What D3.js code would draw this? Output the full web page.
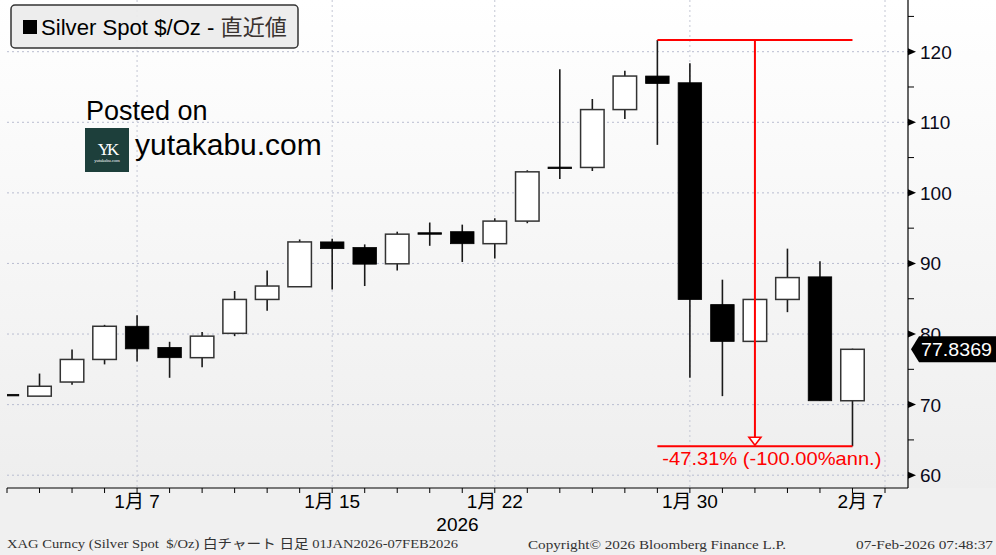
<!DOCTYPE html>
<html><head><meta charset="utf-8">
<script src="https://cdn.jsdelivr.net/npm/d3@7"></script>
<style>
html,body{margin:0;padding:0;background:#f0f0f0;}
svg{display:block;}
</style></head>
<body>
<script>
// ---- data ----
const dates = ["1/1","1/2","1/5","1/6","1/7","1/8","1/9","1/12","1/13","1/14","1/15","1/16","1/19","1/20","1/21","1/22","1/23","1/26","1/27","1/28","1/29","1/30","2/2","2/3","2/4","2/5","2/6","2/7"];
const opens  = [71.45,71.2,73.2,76.4,81.1,78.1,76.65,80.1,84.9,86.7,93.05,92.25,89.95,94.35,94.5,92.8,96.0,103.65,103.6,111.8,116.55,115.6,84.17,78.96,84.9,88.1,70.55];
const highs  = [71.45,74.4,77.8,81.3,82.65,78.9,80.3,86.1,89.0,93.4,93.5,92.7,94.5,95.8,95.5,96.4,103.2,117.5,113.3,117.3,121.66,118.35,87.7,85.0,92.1,90.3,77.93];
const lows   = [71.45,71.2,72.8,75.7,76.1,73.8,75.3,79.7,83.3,86.7,86.3,86.8,89.0,92.5,90.2,90.7,95.7,101.95,103.1,110.45,106.8,73.8,71.2,78.9,83.1,70.55,64.1];
const closes = [71.45,72.6,76.4,81.1,77.9,76.65,79.7,84.9,86.8,93.05,92.1,89.9,94.15,94.25,92.8,96.0,102.98,103.45,111.8,116.55,115.5,84.9,78.96,84.9,88.0,70.55,77.8369];
const tickDates  = ["1/7","1/15","1/22","1/30","2/7"];
const tickLabels = ["1月 7","1月 15","1月 22","1月 30","2月 7"];
const yTicks = [60,70,80,90,100,110,120];
const yMinor = [65,75,85,95,105,115,125];
const lastPrice = 77.8369;
const annStartDate = "1/29", annEndDate = "2/6";
const annHigh = 121.66, annLow = 64.1;
const annText = "-47.31% (-100.00%ann.)";
const legendText = "Silver Spot $/Oz - ";
const legendText2 = "直近値";

// ---- layout ----
const W = 996, H = 555;
const plotL = 7, plotR = 908, plotT = 0, plotB = 488;
const svg = d3.select("body").append("svg").attr("width", W).attr("height", H);
const defs = svg.append("defs");
const grad = defs.append("linearGradient").attr("id","bg").attr("x1",0).attr("y1",0).attr("x2",0).attr("y2",1);
grad.append("stop").attr("offset","0%").attr("stop-color","#ffffff");
grad.append("stop").attr("offset","100%").attr("stop-color","#eeeeee");
defs.append("clipPath").attr("id","clip").append("rect").attr("x",plotL).attr("y",plotT).attr("width",plotR-plotL).attr("height",plotB-plotT);

svg.append("rect").attr("x",0).attr("y",0).attr("width",W).attr("height",plotB).attr("fill","url(#bg)");
svg.append("rect").attr("x",0).attr("y",plotB).attr("width",W).attr("height",H-plotB).attr("fill","#f0f0f0");

const x = d3.scalePoint().domain(dates).range([7, 885]);
const y = d3.scaleLinear().domain([60,120]).range([475.2, 51.7]);
const bw = 23.5;

const FONT = "'Liberation Sans', Arial, 'Noto Sans CJK JP', sans-serif";

// gridlines
const grid = svg.append("g");
grid.selectAll("line.h").data(yTicks).join("line")
  .attr("x1",plotL).attr("x2",plotR).attr("y1",d=>y(d)).attr("y2",d=>y(d))
  .attr("stroke","#b9bdd0").attr("stroke-width",1).attr("stroke-dasharray","2,3");
grid.selectAll("line.v").data(tickDates).join("line")
  .attr("x1",d=>x(d)).attr("x2",d=>x(d)).attr("y1",plotT).attr("y2",plotB)
  .attr("stroke","#c4c7d4").attr("stroke-width",1).attr("stroke-dasharray","2,3");

// candles
const candles = dates.slice(0, opens.length).map((d,i)=>({d, o:opens[i], h:highs[i], l:lows[i], c:closes[i]}));
const isWhite = d => d.c>=d.o && Math.abs(y(d.o)-y(d.c))>2;
const cg = svg.append("g").attr("clip-path","url(#clip)");
cg.selectAll("line.wick").data(candles).join("line")
  .attr("x1",d=>x(d.d)).attr("x2",d=>x(d.d))
  .attr("y1",d=>y(d.h)).attr("y2",d=>y(d.l))
  .attr("stroke","#1a1a1a").attr("stroke-width",1.6);
cg.selectAll("rect.body").data(candles).join("rect")
  .attr("x",d=>x(d.d)-bw/2).attr("width",bw)
  .attr("y",d=>y(Math.max(d.o,d.c)))
  .attr("height",d=>Math.max(1.5, Math.abs(y(d.o)-y(d.c))))
  .attr("fill",d=>isWhite(d) ? "#ffffff" : "#000000")
  .attr("stroke",d=>isWhite(d) ? "#333" : "#000")
  .attr("stroke-width",d=>isWhite(d) ? 1.5 : 0.8);

// annotation
const ax1 = x(annStartDate), ax2 = x(annEndDate), axm = (ax1+ax2)/2;
const ann = svg.append("g");
ann.append("line").attr("x1",ax1).attr("x2",ax2).attr("y1",y(annHigh)).attr("y2",y(annHigh)).attr("stroke","#ff0000").attr("stroke-width",2);
ann.append("line").attr("x1",ax1).attr("x2",ax2).attr("y1",y(annLow)).attr("y2",y(annLow)).attr("stroke","#ff0000").attr("stroke-width",2);
ann.append("line").attr("x1",axm).attr("x2",axm).attr("y1",y(annHigh)).attr("y2",y(annLow)-9).attr("stroke","#ff0000").attr("stroke-width",2);
ann.append("path").attr("d",`M${axm-6},${y(annLow)-9} L${axm+6},${y(annLow)-9} L${axm},${y(annLow)-1} Z`)
  .attr("fill","#ffffff").attr("stroke","#ff0000").attr("stroke-width",1.6);
ann.append("text").attr("x",ax1+5).attr("y",y(annLow)+19).attr("fill","#ff0000")
  .attr("font-family",FONT).attr("font-size",19).attr("textLength",219).attr("lengthAdjust","spacingAndGlyphs").text(annText);

// axes lines
svg.append("line").attr("x1",plotL).attr("x2",plotR).attr("y1",plotB).attr("y2",plotB).attr("stroke","#000").attr("stroke-width",1.2);
svg.append("line").attr("x1",plotR).attr("x2",plotR).attr("y1",plotT).attr("y2",plotB).attr("stroke","#000").attr("stroke-width",1.2);

// x ticks
svg.selectAll("line.xt").data(dates).join("line")
  .attr("x1",d=>x(d)).attr("x2",d=>x(d)).attr("y1",plotB).attr("y2",plotB+5).attr("stroke","#000").attr("stroke-width",1);
svg.selectAll("text.xl").data(tickDates).join("text")
  .attr("x",(d,i)=> i===tickDates.length-1 ? x(d)-2 : x(d))
  .attr("y",508)
  .attr("text-anchor",(d,i)=> i===tickDates.length-1 ? "end" : "middle")
  .attr("font-family",FONT).attr("font-size",19).attr("fill","#000")
  .text((d,i)=>tickLabels[i]);
svg.append("text").attr("x",(plotL+plotR)/2).attr("y",531).attr("text-anchor","middle")
  .attr("font-family",FONT).attr("font-size",19).attr("fill","#000").text("2026");

// y ticks
svg.selectAll("path.yt").data(yTicks).join("path")
  .attr("d",d=>`M${plotR},${y(d)-3.5} L${plotR+8},${y(d)} L${plotR},${y(d)+3.5} Z`).attr("fill","#000");
svg.selectAll("line.ym").data(yMinor).join("line")
  .attr("x1",plotR).attr("x2",plotR+6).attr("y1",d=>y(d)).attr("y2",d=>y(d)).attr("stroke","#000").attr("stroke-width",1);
svg.selectAll("text.yl").data(yTicks).join("text")
  .attr("x",plotR+12).attr("y",d=>y(d)+7).attr("font-family",FONT).attr("font-size",19).attr("fill","#0a0a1a")
  .text(d=>d);

// last price tag
const ly = y(lastPrice);
svg.append("path").attr("d",`M${plotR+3},${ly} L${plotR+11},${ly-13} L${W},${ly-13} L${W},${ly+13} L${plotR+11},${ly+13} Z`).attr("fill","#000");
svg.append("text").attr("x",plotR+13).attr("y",ly+7).attr("font-family",FONT).attr("font-size",19).attr("fill","#ffffff")
  .attr("textLength",71).attr("lengthAdjust","spacingAndGlyphs").text(lastPrice.toFixed(4));

// legend
svg.append("rect").attr("x",11).attr("y",5).attr("width",287).attr("height",43).attr("rx",4)
  .attr("fill","#ebebeb").attr("fill-opacity",0.92).attr("stroke","#333").attr("stroke-width",1.5);
svg.append("rect").attr("x",23).attr("y",20).attr("width",14).attr("height",14).attr("fill","#000");
const lt = svg.append("text").attr("x",41).attr("y",35).attr("font-family",FONT).attr("font-size",21.5)
  .attr("textLength",246).attr("lengthAdjust","spacingAndGlyphs");
lt.append("tspan").attr("fill","#000").text(legendText);
lt.append("tspan").attr("fill","#3a3330").text(legendText2);

// watermark
svg.append("text").attr("x",86).attr("y",120).attr("font-family",FONT).attr("font-size",27).attr("fill","#000").text("Posted on");
svg.append("rect").attr("x",85).attr("y",128).attr("width",44).attr("height",44).attr("fill","#1d3f3b");
svg.append("text").attr("x",107).attr("y",155).attr("text-anchor","middle").attr("font-family","'Liberation Serif', serif").attr("font-size",17).attr("fill","#ffffff").attr("letter-spacing",-3).text("YK");
svg.append("text").attr("x",107).attr("y",162).attr("text-anchor","middle").attr("font-family","'Liberation Serif', serif").attr("font-size",4.5).attr("fill","#ffffff").text("yutakabu.com");
svg.append("text").attr("x",135).attr("y",155).attr("font-family",FONT).attr("font-size",30).attr("fill","#000").text("yutakabu.com");

// footer
const FFONT = "'Liberation Serif', 'Noto Sans CJK JP', serif";
svg.append("text").attr("x",7).attr("y",548).attr("font-family",FFONT).attr("font-size",13).attr("fill","#333")
  .attr("textLength",451).attr("lengthAdjust","spacingAndGlyphs").attr("xml:space","preserve")
  .text("XAG Curncy (Silver Spot  $/Oz) 白チャート 日足 01JAN2026-07FEB2026");
svg.append("text").attr("x",528).attr("y",549).attr("font-family",FFONT).attr("font-size",13).attr("fill","#333")
  .attr("textLength",258).attr("lengthAdjust","spacingAndGlyphs").text("Copyright© 2026 Bloomberg Finance L.P.");
svg.append("text").attr("x",856).attr("y",549).attr("font-family",FFONT).attr("font-size",13).attr("fill","#333")
  .attr("textLength",137).attr("lengthAdjust","spacingAndGlyphs").text("07-Feb-2026 07:48:37");
</script>
</body></html>
